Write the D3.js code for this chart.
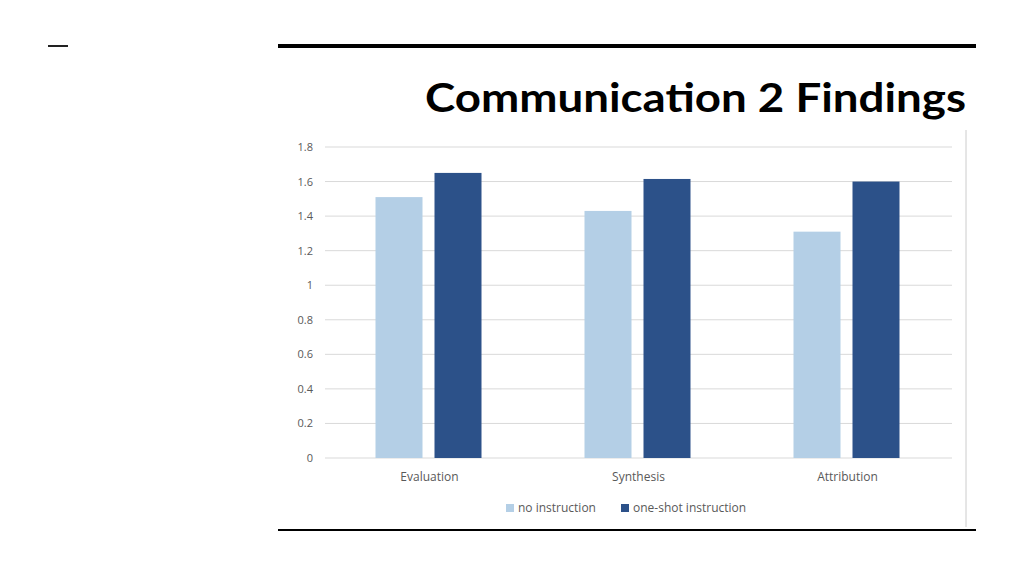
<!DOCTYPE html><html><head><meta charset="utf-8">
<script src="https://cdn.jsdelivr.net/npm/d3@7"></script>
<style>body{margin:0;background:#fff}</style></head><body>
<svg id="c" width="1024" height="576"></svg>
<script>
const categories=["Evaluation","Synthesis","Attribution"];
const seriesNames=["no instruction","one-shot instruction"];
const noInstruction=[1.51,1.43,1.31];
const oneShot=[1.65,1.615,1.60];
const ticks=[0,0.2,0.4,0.6,0.8,1,1.2,1.4,1.6,1.8];
const colors=["#b4cfe6","#2c5189"];
const svg=d3.select("#c");
svg.append("rect").attr("x",48).attr("y",45).attr("width",20).attr("height",2).attr("fill","#222");
svg.append("rect").attr("x",278).attr("y",44).attr("width",698).attr("height",4).attr("fill","#000");
svg.append("rect").attr("x",278).attr("y",529).attr("width",698).attr("height",2).attr("fill","#000");
svg.append("line").attr("x1",966).attr("x2",966).attr("y1",130).attr("y2",527).attr("stroke","#ccc");
svg.append("text").attr("x",425).attr("y",112).attr("textLength",541).attr("lengthAdjust","spacingAndGlyphs").attr("font-family","Lato, sans-serif").attr("font-weight","bold").attr("font-size",40).attr("fill","#000").text("Communication 2 Findings");
const x=d3.scaleBand().domain(categories).range([325,952]);
const y=d3.scaleLinear().domain([0,1.8]).range([458,147]);
const g=svg.append("g").attr("font-family","Open Sans, sans-serif");
ticks.forEach(t=>{
 g.append("line").attr("x1",325).attr("x2",952).attr("y1",y(t)).attr("y2",y(t)).attr("stroke","#d9d9d9");
 g.append("text").attr("x",313).attr("y",y(t)+4).attr("text-anchor","end").attr("font-size",11).attr("fill","#595959").text(t);
});
const series=[noInstruction,oneShot];
series.forEach((vals,si)=>{
 g.selectAll(null).data(categories).enter().append("rect")
  .attr("x",d=>x(d)+x.bandwidth()/2+(si===0?-54:5)).attr("width",47)
  .attr("y",(d,i)=>y(vals[i])).attr("height",(d,i)=>y(0)-y(vals[i])).attr("fill",colors[si]);
});
categories.forEach(c=>g.append("text").attr("x",x(c)+x.bandwidth()/2).attr("y",481).attr("text-anchor","middle").attr("font-size",12).attr("fill","#595959").text(c));
const lx=[506,621];
seriesNames.forEach((n,i)=>{
 g.append("rect").attr("x",lx[i]).attr("y",504).attr("width",8).attr("height",8).attr("fill",colors[i]);
 g.append("text").attr("x",lx[i]+12).attr("y",512).attr("font-size",12).attr("fill","#595959").text(n);
});
</script></body></html>
